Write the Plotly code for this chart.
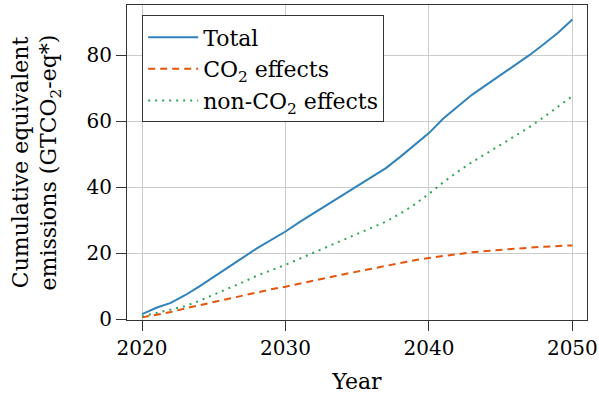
import plotly.graph_objects as go

years = list(range(2020, 2051))
total = [1.6, 3.5, 5.0, 7.3, 10.0, 12.8, 15.6, 18.6, 21.5, 24.0, 26.6,
         29.5, 32.2, 35.0, 37.8, 40.4, 43.2, 45.8, 49.2, 52.8, 56.4,
         60.8, 64.5, 68.0, 71.0, 74.0, 77.0, 80.0, 83.3, 86.8, 90.8]
co2 = [0.6, 1.3, 2.2, 3.3, 4.3, 5.3, 6.3, 7.3, 8.2, 9.1, 9.9,
       10.9, 11.8, 12.7, 13.6, 14.5, 15.4, 16.2, 17.1, 17.9, 18.6,
       19.2, 19.8, 20.3, 20.7, 21.1, 21.4, 21.7, 22.0, 22.2, 22.4]
nonco2 = [0.9, 2.0, 2.9, 4.0, 5.6, 7.4, 9.2, 11.2, 13.2, 14.8, 16.5,
          18.4, 20.3, 22.2, 24.1, 25.9, 27.8, 29.6, 32.0, 34.8, 38.0,
          41.5, 44.7, 47.6, 50.2, 52.8, 55.5, 58.2, 61.2, 64.4, 67.6]
x_ticks = [2020, 2030, 2040, 2050]
y_ticks = [0, 20, 40, 60, 80]

FONT = "DejaVu Serif"
FS_TICK = 20
FS_TEXT = 22

fig = go.Figure()
fig.add_trace(go.Scatter(x=years, y=total, mode="lines", name="Total",
                         line=dict(color="#3182bd", width=2)))
fig.add_trace(go.Scatter(x=years, y=co2, mode="lines", name="CO<sub>2</sub> effects",
                         line=dict(color="#e6550d", width=2, dash="7px,5px")))
fig.add_trace(go.Scatter(x=years, y=nonco2, mode="lines", name="non-CO<sub>2</sub> effects",
                         line=dict(color="#31a354", width=2, dash="2px,5px")))

axis_common = dict(showline=True, linecolor="#333333", linewidth=1, mirror=True,
                   showgrid=True, gridcolor="#cccccc", gridwidth=1, zeroline=False,
                   ticks="outside", ticklen=10, tickcolor="#333333", tickwidth=1,
                   automargin=False,
                   tickfont=dict(family=FONT, size=FS_TICK, color="black"))

fig.update_xaxes(range=[2018.95, 2051.02], tickvals=x_ticks,
                 title=dict(text="Year", font=dict(family=FONT, size=FS_TEXT, color="black"), standoff=14),
                 **axis_common)
fig.update_yaxes(range=[-0.2, 95.2], tickvals=y_ticks,
                 title=dict(text="Cumulative equivalent<br>emissions (GTCO<sub>2</sub>-eq*)",
                            font=dict(family=FONT, size=FS_TEXT, color="black"), standoff=23),
                 **axis_common)

fig.update_layout(
    width=599, height=394,
    margin=dict(l=127, r=12, t=5, b=74),
    plot_bgcolor="white", paper_bgcolor="white",
    font=dict(family=FONT, size=FS_TEXT, color="black"),
    legend=dict(x=0.033, y=0.967, xanchor="left", yanchor="top",
                bgcolor="white", bordercolor="#333333", borderwidth=1,
                font=dict(family=FONT, size=FS_TEXT, color="black"), itemwidth=50),
)

fig.write_html("out.html", config={"displayModeBar": False},
               post_script="document.body.style.margin='0px';")
